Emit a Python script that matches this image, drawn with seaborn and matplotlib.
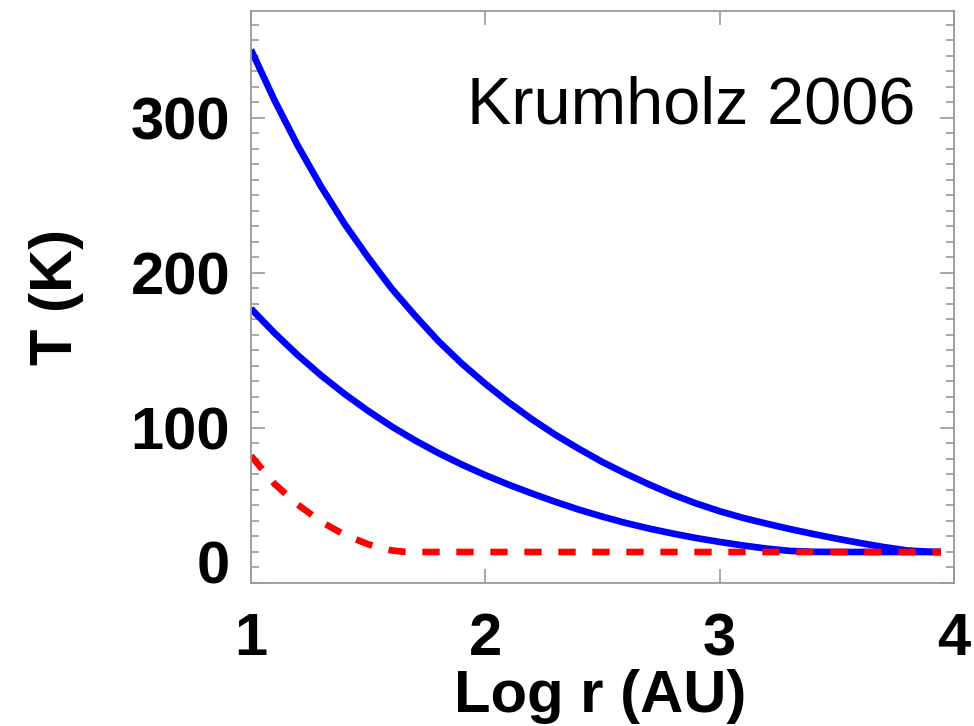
import numpy as np
import pandas as pd
import matplotlib
matplotlib.use("Agg")
import matplotlib.pyplot as plt
from matplotlib.ticker import MultipleLocator, FixedLocator
import seaborn as sns

# Temperature profiles T(r) vs log radius
log_r_hot = [1.0, 1.1, 1.2, 1.3, 1.4, 1.5, 1.6, 1.7, 1.8, 1.9, 2.0, 2.1, 2.2, 2.3,
             2.4, 2.5, 2.6, 2.7, 2.8, 2.9, 3.0, 3.1, 3.2, 3.3, 3.4, 3.5, 3.6, 3.7,
             3.8, 3.9, 3.944]
temp_hot = [344, 311.5, 282, 255.5, 231.5, 210, 190, 172.5, 156, 141.5, 128.5,
            116.5, 105.5, 95.5, 86.5, 78, 70.5, 63.5, 57, 51.3, 46.3, 42, 38.3,
            34.8, 31.6, 28.6, 25.8, 23.2, 21, 20.1, 20]

log_r_warm = [1.0, 1.1, 1.2, 1.3, 1.4, 1.5, 1.6, 1.7, 1.8, 1.9, 2.0, 2.1, 2.2, 2.3,
              2.4, 2.5, 2.6, 2.7, 2.8, 2.9, 3.0, 3.1, 3.2, 3.3, 3.4, 3.5, 3.944]
temp_warm = [177, 161.3, 146.9, 133.8, 121.9, 111, 101, 92, 83.8, 76.4, 69.6,
             63.4, 57.7, 52.3, 47.3, 42.8, 38.7, 35.1, 31.9, 29, 26.5, 24.2, 22.2,
             20.7, 20.1, 20, 20]

log_r_floor = [1.0, 1.1, 1.2, 1.3, 1.4, 1.5, 1.55, 1.6, 1.65, 1.7, 3.944]
temp_floor = [82, 64, 50.5, 39.5, 31, 25, 22.6, 21, 20.2, 20, 20]

x_ticks = [1, 2, 3, 4]
y_ticks = [0, 100, 200, 300]

sns.set_theme(style="ticks")
plt.rcParams["font.family"] = ["Liberation Sans", "DejaVu Sans"]
plt.rcParams["text.color"] = "black"
plt.rcParams["xtick.labelcolor"] = "black"
plt.rcParams["ytick.labelcolor"] = "black"
plt.rcParams["axes.labelcolor"] = "black"

fig = plt.figure(figsize=(9.74, 7.26), dpi=100)
ax = fig.add_axes([251 / 974, 1 - 583 / 726, 703 / 974, 572 / 726])

line_w = 4.8
sns.lineplot(x=log_r_hot, y=temp_hot, ax=ax, color="#0000ff", lw=line_w,
             solid_capstyle="butt", solid_joinstyle="round", sort=False)
sns.lineplot(x=log_r_warm, y=temp_warm, ax=ax, color="#0000ff", lw=line_w,
             solid_capstyle="butt", solid_joinstyle="round", sort=False)
sns.lineplot(x=log_r_floor, y=temp_floor, ax=ax, color="#ff0000", lw=line_w,
             linestyle=(0, (2.6, 2.5)), dash_capstyle="butt", sort=False)

ax.set_xlim(1, 4)
ax.set_ylim(0, 369)
ax.xaxis.set_major_locator(FixedLocator(x_ticks))
ax.yaxis.set_major_locator(FixedLocator(y_ticks))
ax.yaxis.set_minor_locator(MultipleLocator(10))

frame_col = "#9a9a9a"
for side in ["left", "right", "top", "bottom"]:
    ax.spines[side].set_visible(True)
    ax.spines[side].set_color(frame_col)
    ax.spines[side].set_linewidth(1.3)

ax.tick_params(which="both", direction="in", color=frame_col, width=1.2,
               top=True, right=True)
ax.tick_params(which="major", length=10)
ax.tick_params(which="minor", length=5.5)
ax.tick_params(axis="x", pad=21, labelsize=43, labelcolor="black")
ax.tick_params(axis="y", pad=15, labelsize=43, labelcolor="black")

ax.set_xticklabels([str(v) for v in x_ticks], fontweight="bold")
ax.set_yticklabels([str(v) for v in y_ticks], fontweight="bold")
ax.get_yticklabels()[0].set_verticalalignment("baseline")

ax.set_xlabel("Log r (AU)", fontsize=43, fontweight="bold", color="black")
ax.set_ylabel("T (K)", fontsize=43, fontweight="bold", color="black")
ax.xaxis.set_label_coords(0.497, -0.15)
ax.yaxis.set_label_coords(-0.238, 0.5)

ax.text(0.9445, 0.804, "Krumholz 2006", transform=ax.transAxes,
        ha="right", va="baseline", fontsize=48, color="black")

ax.set_facecolor("white")
fig.patch.set_facecolor("white")
fig.savefig("out.png", dpi=100)
